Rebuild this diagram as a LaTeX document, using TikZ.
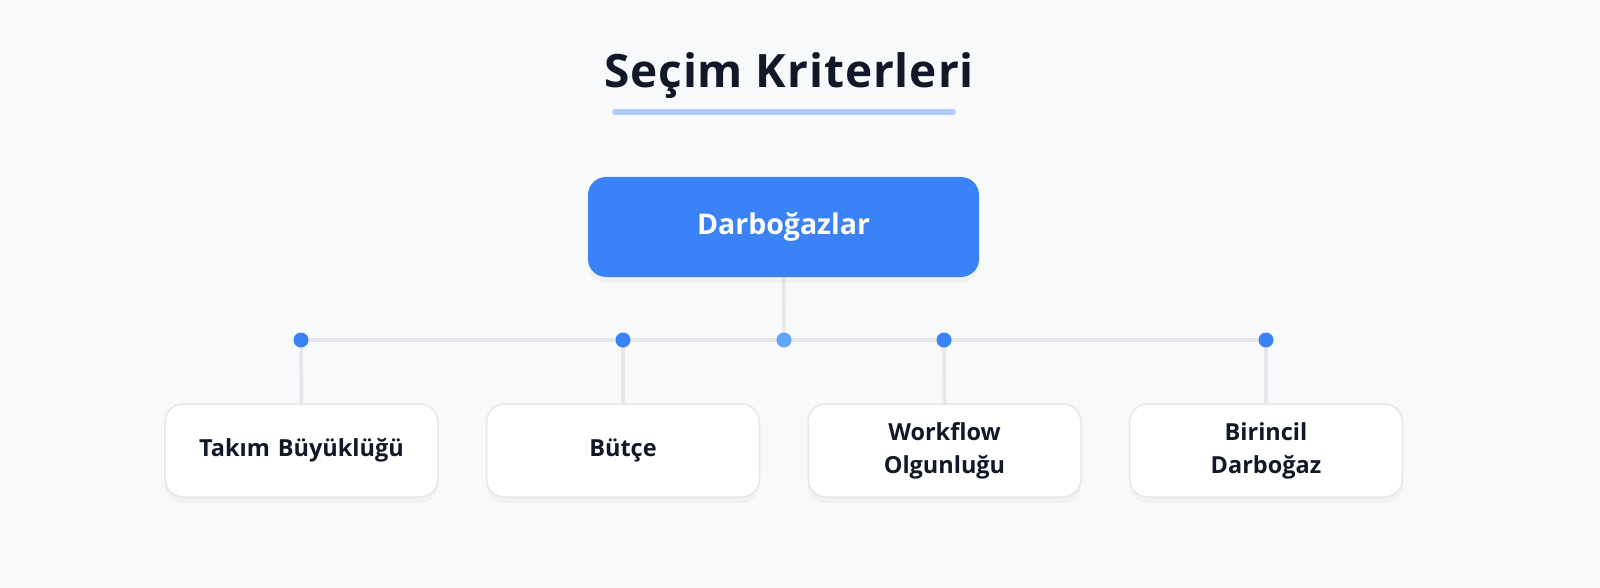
\documentclass[tikz,border=0pt]{standalone}
\usepackage{fontspec}
\setmainfont{Open Sans}
\newfontfamily\titlefont[LetterSpace=2]{Open Sans}
\usetikzlibrary{shadows}
\definecolor{bgcol}{HTML}{F8F9FB}
\definecolor{ink}{HTML}{111827}
\definecolor{mainblue}{HTML}{3B82F6}
\definecolor{hubblue}{HTML}{60A5FA}
\definecolor{barblue}{HTML}{AECBFA}
\definecolor{wirecol}{HTML}{E5E7EB}
\pgfdeclarelayer{canvas}
\pgfdeclarelayer{back}
\pgfsetlayers{canvas,back,main}
\tikzset{
  topbox/.style={rounded corners=18pt, fill=mainblue, text=white,
    minimum width=391pt, minimum height=100pt,
    font=\bfseries\fontsize{28.5}{34}\selectfont,
    drop shadow={shadow xshift=0pt, shadow yshift=-6pt, opacity=0.06}},
  leafbox/.style={rounded corners=18pt, fill=white, draw=wirecol, line width=1.5pt,
    minimum width=273pt, minimum height=93pt, text width=250pt, align=center,
    text=ink, font=\bfseries\fontsize{23.5}{33}\selectfont,
    drop shadow={shadow xshift=0pt, shadow yshift=-6pt, opacity=0.05}},
  wire/.style={draw=wirecol, line width=3.5pt},
  dot/.style={circle, fill=mainblue, inner sep=0pt, minimum size=15pt},
}
\begin{document}
\begin{tikzpicture}[x=1pt,y=-1pt]
  \useasboundingbox (0,0) rectangle (1600,588);
  \begin{pgfonlayer}{canvas}
    \fill[bgcol] (0,0) rectangle (1600,588);
  \end{pgfonlayer}
  % title
  \node[text=ink, font=\titlefont\bfseries\fontsize{46}{52}\selectfont] (title) at (789,76) {Seçim Kriterleri};
  \coordinate (barL) at (615,112); \coordinate (barR) at (953,112);
  \draw[barblue, line width=6pt, line cap=round] (barL) -- (barR);
  % root and hub
  \node[topbox] (root) at (783.5,227) {Darboğazlar};
  \node[dot, fill=hubblue] (hub) at (784,340) {};
  % dots
  \node[dot] (d1) at (301,340) {};
  \node[dot] (d2) at (623,340) {};
  \node[dot] (d3) at (944,340) {};
  \node[dot] (d4) at (1266,340) {};
  % leaves
  \node[leafbox] (l1) at (301.5,450.5) {Takım Büyüklüğü};
  \node[leafbox] (l2) at (623,450.5) {Bütçe};
  \node[leafbox] (l3) at (944.5,450.5) {Workflow\\Olgunluğu};
  \node[leafbox] (l4) at (1266,450.5) {Birincil\\Darboğaz};
  \begin{pgfonlayer}{back}
    \draw[wire] (root.south) -- (hub.center);
    \draw[wire] (d1.center) -- (d4.center);
    \draw[wire] (d1.center) -- (l1.north);
    \draw[wire] (d2.center) -- (l2.north);
    \draw[wire] (d3.center) -- (l3.north);
    \draw[wire] (d4.center) -- (l4.north);
  \end{pgfonlayer}
\end{tikzpicture}
\end{document}
